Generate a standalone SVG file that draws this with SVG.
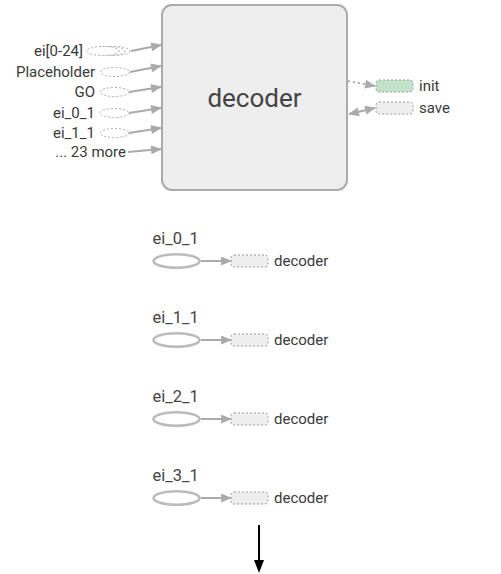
<svg xmlns="http://www.w3.org/2000/svg" width="501" height="574" viewBox="0 0 501 574">
<defs>
<style>
text{font-family:Roboto,"Liberation Sans",sans-serif;fill:#3a3a3a}
.lbl{font-size:15px}
.sl{font-size:16.5px;fill:#444}
.conn{stroke:#aaa;stroke-width:2;fill:none}
.dash{stroke:#aaa;stroke-width:1;stroke-dasharray:2,2;fill:#fff}
.ref{stroke:#999;stroke-width:1;stroke-dasharray:2,2;fill:#eee}
.ser{fill:#fff;stroke:#bbb;stroke-width:2.6}
</style>
<marker id="ah" viewBox="0 0 12 10" refX="11" refY="5" markerWidth="12" markerHeight="9" markerUnits="userSpaceOnUse" orient="auto-start-reverse">
<path d="M0,0 L12,5 L0,10 z" fill="#aaa"/>
</marker>
</defs>
<rect width="501" height="574" fill="#fff"/>
<g id="decoder">
<rect x="162" y="5" width="185" height="185" rx="10" fill="#eee" stroke="#aaa" stroke-width="2"/>
<text x="254.5" y="106.5" font-size="26" text-anchor="middle" style="fill:#444">decoder</text>
</g>
<g id="in-ei-series">
<ellipse cx="114" cy="51" rx="16" ry="4.5" class="dash"/>
<ellipse cx="109" cy="51" rx="16" ry="4.5" class="dash"/>
<ellipse cx="103" cy="51" rx="16" ry="4.5" class="dash"/>
<text x="83" y="56" class="lbl" text-anchor="end">ei[0-24]</text>
</g>
<g id="in-placeholder">
<ellipse cx="115" cy="72" rx="14.5" ry="4.5" class="dash"/>
<text x="95" y="77" class="lbl" text-anchor="end">Placeholder</text>
</g>
<g id="in-go">
<ellipse cx="114.5" cy="92" rx="14.5" ry="4.5" class="dash"/>
<text x="95" y="97" class="lbl" text-anchor="end">GO</text>
</g>
<g id="in-ei01">
<ellipse cx="114.5" cy="113" rx="14.5" ry="4.5" class="dash"/>
<text x="95" y="118" class="lbl" text-anchor="end">ei_0_1</text>
</g>
<g id="in-ei11">
<ellipse cx="114.5" cy="133" rx="14.5" ry="4.5" class="dash"/>
<text x="95" y="138" class="lbl" text-anchor="end">ei_1_1</text>
</g>
<g id="in-more">
<text x="126" y="157" class="lbl" text-anchor="end">... 23 more</text>
</g>
<g id="out-init">
<rect x="376" y="80" width="37" height="12" rx="3" fill="#c2e3ca" stroke="#999" stroke-width="1" stroke-dasharray="2,2"/>
<text x="419" y="91" class="lbl">init</text>
</g>
<g id="out-save">
<rect x="376" y="102" width="37" height="12" rx="3" class="ref"/>
<text x="419" y="113" class="lbl">save</text>
</g>
<g id="s0">
<text x="152.5" y="243.5" class="sl">ei_0_1</text>
<ellipse cx="176.5" cy="261" rx="23" ry="6.8" class="ser"/>
<rect x="231" y="255" width="37" height="12" rx="3" class="ref"/>
<text x="274" y="266" class="lbl">decoder</text>
</g>
<g id="s1">
<text x="152.5" y="322.5" class="sl">ei_1_1</text>
<ellipse cx="176.5" cy="340" rx="23" ry="6.8" class="ser"/>
<rect x="231" y="334" width="37" height="12" rx="3" class="ref"/>
<text x="274" y="345" class="lbl">decoder</text>
</g>
<g id="s2">
<text x="152.5" y="401.5" class="sl">ei_2_1</text>
<ellipse cx="176.5" cy="419" rx="23" ry="6.8" class="ser"/>
<rect x="231" y="413" width="37" height="12" rx="3" class="ref"/>
<text x="274" y="424" class="lbl">decoder</text>
</g>
<g id="s3">
<text x="152.5" y="480.5" class="sl">ei_3_1</text>
<ellipse cx="176.5" cy="498" rx="23" ry="6.8" class="ser"/>
<rect x="231" y="492" width="37" height="12" rx="3" class="ref"/>
<text x="274" y="503" class="lbl">decoder</text>
</g>
<g id="connectors">
<path class="conn" d="M131,51 L161,45" marker-end="url(#ah)"/>
<path class="conn" d="M130,72 L161,66" marker-end="url(#ah)"/>
<path class="conn" d="M129,92 L161,87" marker-end="url(#ah)"/>
<path class="conn" d="M129,113 L161,108" marker-end="url(#ah)"/>
<path class="conn" d="M129,133 L161,128" marker-end="url(#ah)"/>
<path class="conn" d="M128,152 L161,149" marker-end="url(#ah)"/>
<path class="conn" d="M348,81 L375,86" stroke-dasharray="2,3" marker-end="url(#ah)"/>
<path class="conn" d="M349,114 L375,108" marker-start="url(#ah)" marker-end="url(#ah)"/>
<path class="conn" d="M201,261 L231,261" marker-end="url(#ah)"/>
<path class="conn" d="M201,340 L231,340" marker-end="url(#ah)"/>
<path class="conn" d="M201,419 L231,419" marker-end="url(#ah)"/>
<path class="conn" d="M201,498 L231,498" marker-end="url(#ah)"/>
<path d="M259,525 L259,562" stroke="#000" stroke-width="2" fill="none"/>
<path d="M254,560 L264,560 L259,573 z" fill="#000"/>
</g>
</svg>
